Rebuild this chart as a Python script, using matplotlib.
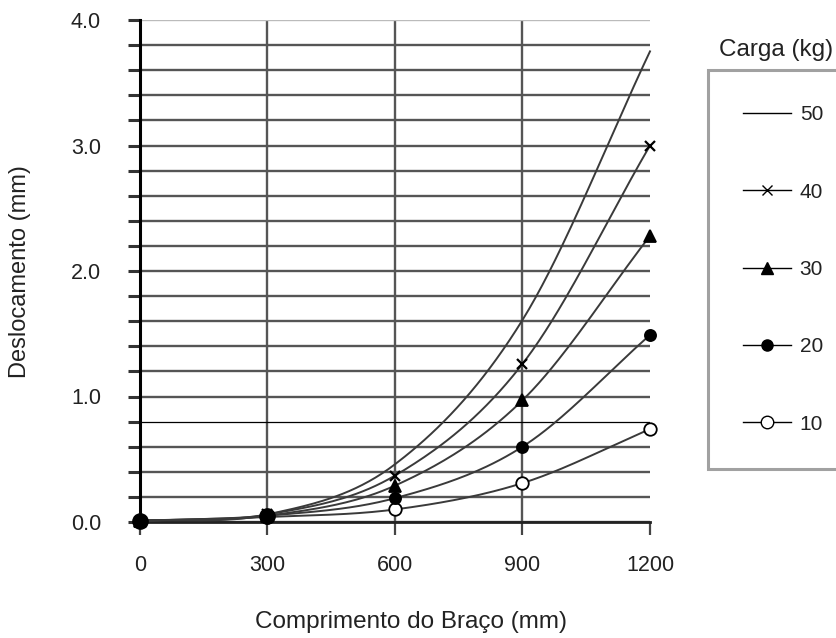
import numpy as np
import matplotlib
matplotlib.use("Agg")
import matplotlib.pyplot as plt
from matplotlib.ticker import MultipleLocator, FuncFormatter
from matplotlib.lines import Line2D

plt.rcParams['font.family'] = ['Liberation Sans', 'DejaVu Sans']

# ---- data ----
comprimento = [0, 300, 600, 900, 1200]
carga_labels = ['50', '40', '30', '20', '10']
desl_50 = [0.01, 0.06, 0.46, 1.61, 3.75]
desl_40 = [0.01, 0.06, 0.37, 1.26, 3.00]
desl_30 = [0.01, 0.05, 0.29, 0.97, 2.28]
desl_20 = [0.01, 0.05, 0.19, 0.60, 1.49]
desl_10 = [0.01, 0.04, 0.10, 0.31, 0.74]
x_ticks = [0, 300, 600, 900, 1200]
y_tick_labels = ['0.0', '1.0', '2.0', '3.0', '4.0']


def catmull_rom(x, y, n=40):
    x = np.asarray(x, float)
    y = np.asarray(y, float)
    px = np.concatenate([[2 * x[0] - x[1]], x, [2 * x[-1] - x[-2]]])
    py = np.concatenate([[2 * y[0] - y[1]], y, [2 * y[-1] - y[-2]]])
    xs, ys = [], []
    t = np.linspace(0, 1, n)
    for i in range(1, len(px) - 2):
        for p, out in ((px, xs), (py, ys)):
            p0, p1, p2, p3 = p[i - 1], p[i], p[i + 1], p[i + 2]
            out.append(0.5 * ((2 * p1) + (-p0 + p2) * t
                              + (2 * p0 - 5 * p1 + 4 * p2 - p3) * t ** 2
                              + (-p0 + 3 * p1 - 3 * p2 + p3) * t ** 3))
    return np.concatenate(xs), np.concatenate(ys)


W, H = 837, 638
fig = plt.figure(figsize=(W / 100, H / 100), dpi=100)
ax = fig.add_axes([140 / W, 1 - 522 / H, 510 / W, 502 / H])

series = [desl_50, desl_40, desl_30, desl_20, desl_10]
markers = [None, 'x', '^', 'o', 'o']
msizes = [0, 7, 8, 8, 9]
faces = ['k', 'k', 'k', 'k', 'white']
mzorders = [4, 7, 6, 8, 5]
line_col = '#3a3a3a'

handles = []
for vals, m, ms, fc, lab, mz in zip(series, markers, msizes, faces,
                                     carga_labels, mzorders):
    sx, sy = catmull_rom(comprimento, vals)
    ax.plot(sx, sy, color=line_col, lw=1.4, zorder=3, clip_on=False)
    if m is not None:
        ax.plot(comprimento, vals, linestyle='none', marker=m, ms=ms,
                mfc=fc, mec='k', mew=1.6 if m == 'x' else 1.3,
                zorder=mz, clip_on=False)
    handles.append(Line2D([0], [0], color='k', lw=1.0, marker=m,
                          ms=(ms if m else 0), mfc=fc, mec='k', mew=1.0))

# big filled start markers (merged points at 0 and 300)
ax.plot(comprimento[:2], desl_20[:2], linestyle='none', marker='o', ms=11,
        mfc='k', mec='k', zorder=9, clip_on=False)

ax.set_xlim(0, 1200)
ax.set_ylim(0, 4.0)
ax.set_xticks(x_ticks)
ax.yaxis.set_major_locator(MultipleLocator(0.2))


def yfmt(v, pos):
    r = round(v / 0.2)
    if r % 5 == 0:
        return y_tick_labels[int(r // 5)]
    return ''


ax.yaxis.set_major_formatter(FuncFormatter(yfmt))

ax.grid(True, color='#555555', lw=1.7)
ax.set_axisbelow(True)
for gl, v in zip(ax.get_ygridlines(), ax.get_yticks()):
    if abs(v - 0.8) < 1e-6:
        gl.set_color('black')
        gl.set_linewidth(0.9)
    if abs(v - 4.0) < 1e-6:
        gl.set_color('#bbbbbb')
for gl, v in zip(ax.get_xgridlines(), ax.get_xticks()):
    if v >= 1200:
        gl.set_visible(False)

for s in ['top', 'right']:
    ax.spines[s].set_visible(False)
ax.spines['left'].set_linewidth(2.2)
ax.spines['bottom'].set_linewidth(2.0)
ax.spines['left'].set_color('black')
ax.spines['bottom'].set_color('#222222')

ax.tick_params(axis='y', direction='out', length=9, width=2.2, color='#333333',
               labelsize=15.5, pad=19, labelcolor='#222222')
ax.tick_params(axis='x', direction='out', length=9.5, width=1.6, color='#444444',
               labelsize=15.5, pad=14, labelcolor='#222222')

fig.text(20 / W, 1 - 272 / H, 'Deslocamento (mm)', rotation=90, ha='center',
         va='center', fontsize=17, color='#222222')
fig.text(411 / W, 1 - 622 / H, 'Comprimento do Braço (mm)', ha='center',
         va='center', fontsize=17.5, color='#222222')
fig.text(776 / W, 1 - 50 / H, 'Carga (kg)', ha='center', va='center',
         fontsize=17.5, color='#222222')

leg = fig.legend(handles, carga_labels, loc='upper left',
                 bbox_to_anchor=(708 / W, 1 - 70 / H), borderaxespad=0,
                 frameon=True, fancybox=False, fontsize=15,
                 handlelength=2.3, handletextpad=0.4, labelspacing=2.8,
                 borderpad=1.7, labelcolor='#222222')
leg.get_frame().set_edgecolor('#8a8a8a')
leg.get_frame().set_linewidth(2.2)

fig.savefig('out.png', dpi=100)
